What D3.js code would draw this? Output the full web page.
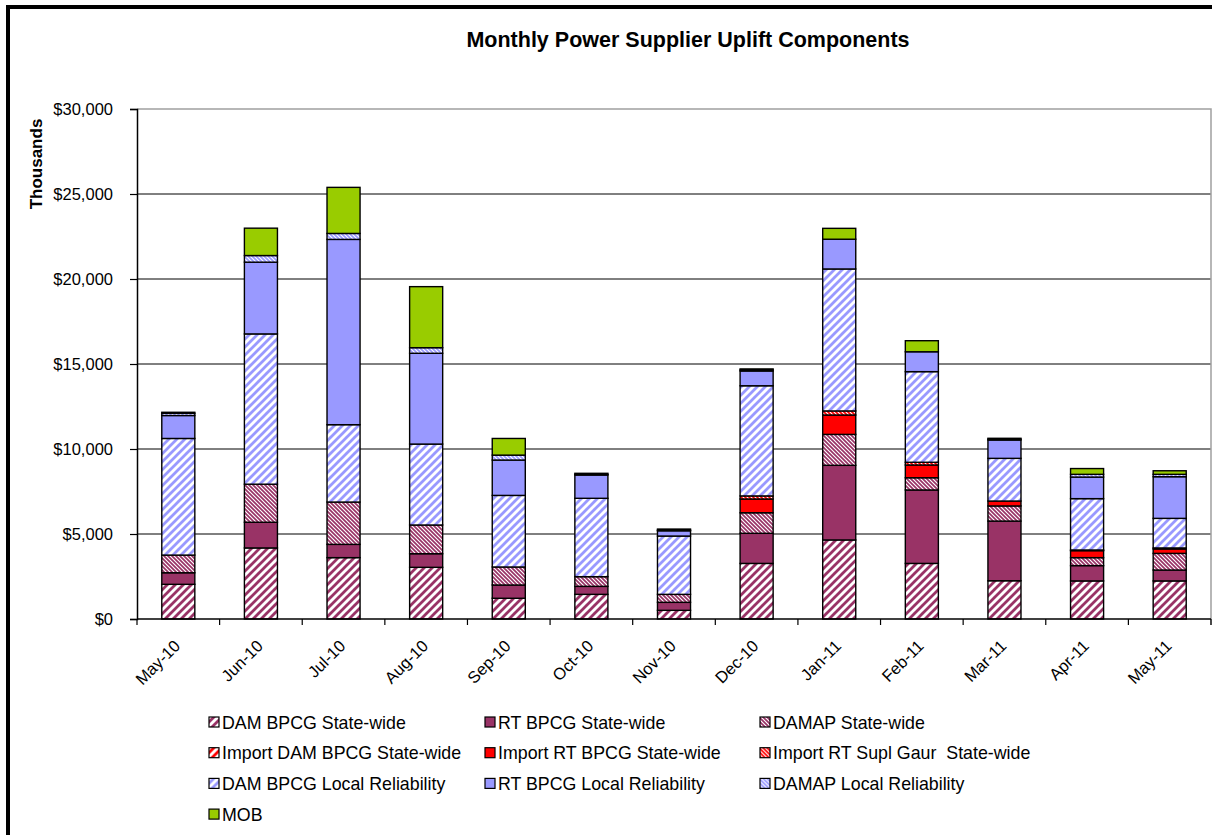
<!DOCTYPE html>
<html>
<head>
<meta charset="utf-8">
<script src="https://cdn.jsdelivr.net/npm/d3@7"></script>
<style>
  html, body { margin: 0; padding: 0; background: #fff; }
  #upliftChart text { font-family: "Liberation Sans", Arial, sans-serif; fill: #000; }
</style>
</head>
<body>
<div id="upliftChart"></div>
<script>
//// DATA (thousands of $)
const months = ['May-10','Jun-10','Jul-10','Aug-10','Sep-10','Oct-10','Nov-10','Dec-10','Jan-11','Feb-11','Mar-11','Apr-11','May-11'];

const damBpcgSW      = [2040, 4180, 3610, 3040, 1220, 1450,  510, 3270, 4650, 3270, 2250, 2240, 2240];
const rtBpcgSW       = [ 680, 1510,  780,  800,  780,  470,  470, 1770, 4390, 4320, 3510,  900,  640];
const damapSW        = [1040, 2240, 2490, 1690, 1060,  570,  470, 1210, 1820,  720,  890,  470,  980];
const impDamBpcgSW   = [   0,    0,    0,    0,    0,    0,    0,    0,    0,    0,    0,    0,    0];
const impRtBpcgSW    = [   0,    0,    0,    0,    0,    0,    0,  810, 1140,  750,  290,  410,  260];
const impRtSuplSW    = [   0,    0,    0,    0,    0,    0,    0,  180,  240,  160,    0,   40,   60];
const damBpcgLR      = [6860, 8840, 4550, 4760, 4210, 4610, 3430, 6480, 8350, 5330, 2510, 3020, 1740];
const rtBpcgLR       = [1350, 4220,10900, 5340, 2080, 1370,  310,  870, 1750, 1170, 1080, 1270, 2450];
const damapLR        = [ 130,  390,  350,  330,  290,   40,   40,   60,    0,    0,   50,  160,  140];
const mob            = [  60, 1610, 2710, 3590,  980,   60,   60,   60,  640,  650,   50,  340,  210];

const seriesNames = ['DAM BPCG State-wide','RT BPCG State-wide','DAMAP State-wide',
                     'Import DAM BPCG State-wide','Import RT BPCG State-wide','Import RT Supl Gaur\u00a0 State-wide',
                     'DAM BPCG Local Reliability','RT BPCG Local Reliability','DAMAP Local Reliability','MOB'];
const seriesValues = [damBpcgSW, rtBpcgSW, damapSW, impDamBpcgSW, impRtBpcgSW, impRtSuplSW, damBpcgLR, rtBpcgLR, damapLR, mob];
const yTicks = [0, 5000, 10000, 15000, 20000, 25000, 30000];

// FILLS: 'wide' = wide upward diagonal, 'dense' = dense downward diagonal, 'solid'
const fillKind  = ['wide','solid','dense','wide','solid','dense','wide','solid','dense','solid'];
const fillColor = ['#993366','#993366','#993366','#ff0000','#ff0000','#ff0000','#9999ff','#9999ff','#9999ff','#99cc00'];

//// SETUP
const W = 1215, H = 835;
const plot = {left: 137, right: 1211, top: 109, bottom: 619};

const svg = d3.select('#upliftChart').append('svg')
  .attr('width', W).attr('height', H);

// patterns
const defs = svg.append('defs');
fillKind.forEach(function(k, i) {
  if (k === 'solid') return;
  const p = defs.append('pattern')
    .attr('id', 'pat-' + i)
    .attr('patternUnits', 'userSpaceOnUse');
  if (k === 'wide') {
    p.attr('width', 8).attr('height', 8);
    p.append('rect').attr('width', 8).attr('height', 8).attr('fill', '#fff');
    p.append('path').attr('d', 'M-2,2 L2,-2 M0,8 L8,0 M6,10 L10,6')
      .attr('stroke', fillColor[i]).attr('stroke-width', 2.8);
  } else {
    p.attr('width', 4).attr('height', 4);
    p.append('rect').attr('width', 4).attr('height', 4).attr('fill', '#fff');
    p.append('path').attr('d', 'M-1,-1 L5,5 M-1,3 L1,5 M3,-1 L5,1')
      .attr('stroke', fillColor[i]).attr('stroke-width', 1.7);
  }
});
function fillOf(i) { return fillKind[i] === 'solid' ? fillColor[i] : 'url(#pat-' + i + ')'; }

// outer frame (top + left visible)
svg.append('path').attr('d', 'M8,835 V7 H1212')
  .attr('fill', 'none').attr('stroke', '#000').attr('stroke-width', 4);

// title
svg.append('text')
  .attr('x', 688).attr('y', 47)
  .attr('text-anchor', 'middle')
  .style('font-size', '21.5px').style('font-weight', 'bold')
  .text('Monthly Power Supplier Uplift Components');

//// SCALES
const x = d3.scaleBand().domain(months).range([plot.left, plot.right])
  .paddingInner(0.6).paddingOuter(0.3);
const y = d3.scaleLinear().domain([0, 30000]).range([plot.bottom, plot.top]);
const step = x.step();

// gridlines
svg.append('g').selectAll('line')
  .data(yTicks.filter(d => d > 0 && d < 30000))
  .enter().append('line')
  .attr('x1', plot.left).attr('x2', plot.right)
  .attr('y1', d => y(d)).attr('y2', d => y(d))
  .attr('stroke', '#000').attr('stroke-width', 1);

// plot border top/right (gray)
svg.append('path')
  .attr('d', 'M' + plot.left + ',' + y(30000) + ' H' + plot.right + ' V' + (plot.bottom + 6))
  .attr('fill', 'none').attr('stroke', '#a0a0a0').attr('stroke-width', 1.5);

//// STACK
const rows = months.map(function(m, j) {
  const r = {month: m};
  seriesValues.forEach(function(s, i) { r['s' + i] = s[j]; });
  return r;
});
const stack = d3.stack().keys(seriesValues.map((s, i) => 's' + i));
const stacked = stack(rows);

svg.append('g').selectAll('g')
  .data(stacked)
  .enter().append('g')
  .attr('fill', (d, i) => fillOf(i))
  .selectAll('rect')
  .data(d => d.filter(v => v[1] - v[0] > 0))
  .enter().append('rect')
  .attr('x', d => x(d.data.month))
  .attr('width', x.bandwidth())
  .attr('y', d => y(d[1]))
  .attr('height', d => y(d[0]) - y(d[1]))
  .attr('stroke', '#000').attr('stroke-width', 1.4);

//// AXES
// y axis
const yAxis = d3.axisLeft(y).tickValues(yTicks).tickSize(7).tickPadding(17)
  .tickFormat(d => '$' + d3.format(',')(d));
const gy = svg.append('g').attr('transform', 'translate(' + plot.left + ',0)').call(yAxis);
gy.select('.domain').attr('stroke', '#000').attr('stroke-width', 1.5);
gy.selectAll('.tick line').attr('stroke', '#000').attr('stroke-width', 1.2);
gy.selectAll('.tick text').style('font-size', '16.5px');

svg.append('text')
  .attr('transform', 'translate(42,164) rotate(-90)')
  .attr('text-anchor', 'middle')
  .style('font-size', '17px').style('font-weight', 'bold')
  .text('Thousands');

// x axis
svg.append('line')
  .attr('x1', plot.left).attr('x2', plot.right)
  .attr('y1', plot.bottom).attr('y2', plot.bottom)
  .attr('stroke', '#000').attr('stroke-width', 1.5);

const tickX = months.map(m => x(m) - step * 0.3).concat([plot.right]);
svg.append('g').selectAll('line')
  .data(tickX)
  .enter().append('line')
  .attr('x1', d => d).attr('x2', d => d)
  .attr('y1', plot.bottom).attr('y2', plot.bottom + 6)
  .attr('stroke', '#000').attr('stroke-width', 1.2);

svg.append('g').selectAll('text')
  .data(months)
  .enter().append('text')
  .attr('transform', d => 'translate(' + (x(d) + x.bandwidth() / 2 + 3) + ',' + 647 + ') rotate(-45)')
  .attr('text-anchor', 'end')
  .style('font-size', '16.5px')
  .text(d => d);

//// LEGEND
const legCols = [209, 485, 760];
const legRow0 = 722, legRowH = 30.7;
const leg = svg.append('g').selectAll('g')
  .data(seriesNames)
  .enter().append('g')
  .attr('transform', (d, i) => 'translate(' + legCols[i % 3] + ',' + (legRow0 + Math.floor(i / 3) * legRowH) + ')');

leg.append('rect')
  .attr('x', 0).attr('y', -5).attr('width', 10).attr('height', 10)
  .attr('fill', (d, i) => fillOf(i))
  .attr('stroke', '#000').attr('stroke-width', 1.2);

leg.append('text')
  .attr('x', 13).attr('y', 6.5)
  .style('font-size', '17.8px')
  .text(d => d);
</script>
</body>
</html>
